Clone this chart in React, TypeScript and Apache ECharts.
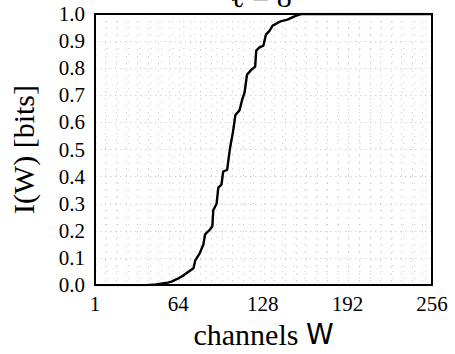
import React, { useEffect, useRef } from "react";
import * as echarts from "echarts";

const channels = [1, 40, 47, 52, 56, 59, 62, 64.5, 68, 72, 75.5, 76.8, 80.5, 83, 84.3, 88, 89.8, 90.5, 93, 94.3, 96.7, 98, 101, 103, 105.5, 107.2, 110.4, 112.2, 114.2, 116, 119.2, 122.2, 123, 125.4, 128.4, 130.4, 132.9, 135.4, 139.1, 142, 146.6, 152.8, 157, 256];
const info = [0, 0, 0.002, 0.006, 0.009, 0.013, 0.02, 0.026, 0.036, 0.05, 0.062, 0.09, 0.12, 0.15, 0.187, 0.205, 0.217, 0.276, 0.3, 0.36, 0.371, 0.419, 0.425, 0.5, 0.568, 0.627, 0.645, 0.681, 0.711, 0.776, 0.794, 0.806, 0.865, 0.877, 0.883, 0.925, 0.937, 0.957, 0.967, 0.974, 0.979, 0.993, 1.0, 1.0];
const xTickLabels = [1, 64, 128, 192, 256];
const titleText = "ℓ = 8";
const xNameMain = "channels";
const xNameVar = "W";
const yName = "I(W) [bits]";

const SERIF = "Liberation Serif";
const SANS = "DejaVu Sans";

export default function App() {
  const ref = useRef<HTMLDivElement>(null);
  useEffect(() => {
    if (!ref.current) return;
    const chart = echarts.init(ref.current, null, { renderer: "svg" });
    const data = channels.map((c, i) => [c, info[i]]);
    chart.setOption({
      animation: false,
      backgroundColor: "#fff",
      textStyle: { fontFamily: SERIF, color: "#000" },
      graphic: [
        {
          type: "text",
          x: 261,
          y: -3.6,
          style: {
            text: titleText,
            font: `30px "${SERIF}"`,
            fill: "#000",
            align: "center",
            verticalAlign: "middle",
          },
        },
      ],
      grid: {
        left: 92,
        right: 23,
        top: 14,
        bottom: 60,
        show: true,
        borderColor: "#000",
        borderWidth: 2,
        backgroundColor: "transparent",
        z: 3,
      },
      xAxis: {
        type: "value",
        min: 1,
        max: 256,
        interval: 8,
        name: `{a|${xNameMain} }{b|${xNameVar}}`,
        nameLocation: "middle",
        nameGap: 27,
        nameTextStyle: {
          fontFamily: SERIF,
          fontSize: 30,
          color: "#000",
          rich: {
            a: { fontFamily: SERIF, fontSize: 30, color: "#000" },
            b: { fontFamily: SANS, fontSize: 28, color: "#000" },
          },
        },
        axisLine: { show: false },
        axisTick: { show: false },
        axisLabel: {
          customValues: xTickLabels,
          fontFamily: SERIF,
          fontSize: 21,
          color: "#000",
          margin: 8,
        },
        splitLine: {
          show: true,
          lineStyle: { color: "#d2d2d2", width: 1, type: [1.5, 5.5] },
        },
      },
      yAxis: {
        type: "value",
        min: 0,
        max: 1,
        interval: 0.1,
        name: yName,
        nameLocation: "middle",
        nameGap: 57,
        nameTextStyle: { fontFamily: SERIF, fontSize: 30, color: "#000" },
        axisLine: { show: false },
        axisTick: { show: false },
        minorTick: { show: false, splitNumber: 4 },
        axisLabel: {
          fontFamily: SERIF,
          fontSize: 21,
          color: "#000",
          margin: 10,
          formatter: (v: number) => v.toFixed(1),
        },
        splitLine: {
          show: true,
          lineStyle: { color: "#d2d2d2", width: 1, type: [1.5, 3.5] },
        },
        minorSplitLine: {
          show: true,
          lineStyle: { color: "#dadada", width: 1, type: [1.5, 9.5] },
        },
      },
      series: [
        {
          type: "line",
          data,
          showSymbol: false,
          symbol: "none",
          lineStyle: { color: "#000", width: 2.4 },
          z: 4,
        },
      ],
    });
    return () => chart.dispose();
  }, []);
  return <div ref={ref} style={{ width: 455, height: 354, position: "absolute", left: 0, top: 0 }} />;
}
